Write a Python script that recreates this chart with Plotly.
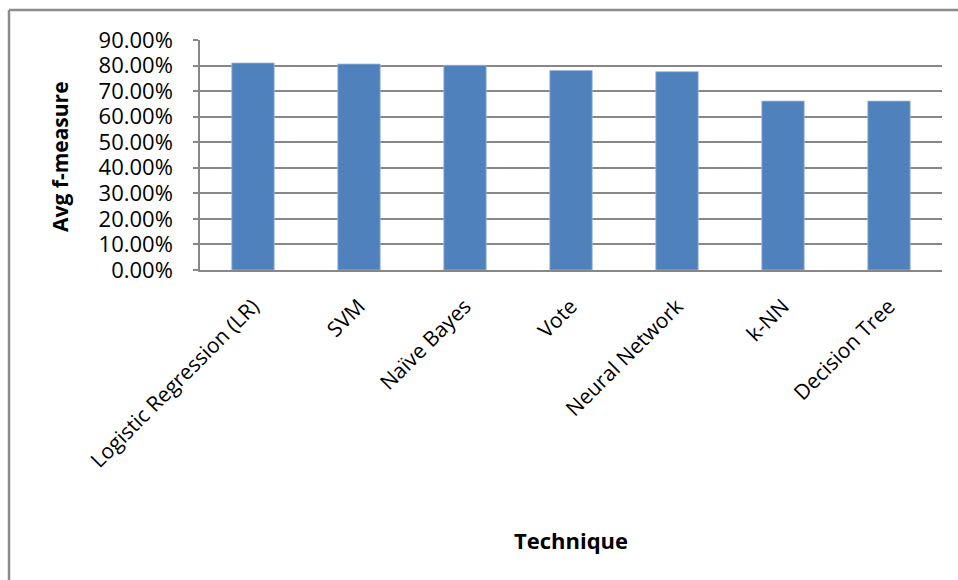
import plotly.graph_objects as go

techniques = ["Logistic Regression (LR)", "SVM", "Naïve Bayes", "Vote",
              "Neural Network", "k-NN", "Decision Tree"]
avg_f_measure = [0.810, 0.806, 0.801, 0.781, 0.776, 0.661, 0.661]
y_ticks = [0.0, 0.1, 0.2, 0.3, 0.4, 0.5, 0.6, 0.7, 0.8, 0.9]

W, H = 958, 580
L, R, T, B = 200, 16, 40, 310
pw, ph = W - L - R, H - T - B

def px(x):
    return (x - L) / pw

def py(y):
    return (H - B - y) / ph

FONT = "Open Sans"

fig = go.Figure(go.Bar(
    x=techniques, y=avg_f_measure,
    marker=dict(color="#4F81BD", line=dict(color="#9DB7DA", width=0.8)),
))

fig.update_layout(
    width=W, height=H,
    margin=dict(l=L, r=R, t=T, b=B, pad=0),
    paper_bgcolor="white", plot_bgcolor="white",
    bargap=0.6, showlegend=False,
    font=dict(family=FONT, color="black"),
    xaxis=dict(
        tickangle=-45, tickfont=dict(size=21, family=FONT),
        showgrid=False, showline=True, linecolor="#878787", linewidth=1.5,
        ticks="", ticklabelstandoff=14,
    ),
    yaxis=dict(
        range=[0, 0.9], tickvals=y_ticks, tickformat=".2%",
        tickfont=dict(size=22, family=FONT),
        showgrid=True, gridcolor="#878787", gridwidth=1.5,
        showline=True, linecolor="#878787", linewidth=1.5,
        ticks="outside", ticklen=5, tickcolor="#878787", tickwidth=1.5,
        ticklabelstandoff=16, zeroline=False,
    ),
    annotations=[
        dict(text="<b>Avg f-measure</b>", x=px(60), y=py(157), xref="paper", yref="paper",
             textangle=-90, showarrow=False, font=dict(size=21, family=FONT),
             xanchor="center", yanchor="middle"),
        dict(text="<b>Technique</b>", x=px(571), y=py(540), xref="paper", yref="paper",
             showarrow=False, font=dict(size=22, family=FONT),
             xanchor="center", yanchor="middle"),
    ],
    shapes=[
        dict(type="line", xref="paper", yref="paper", x0=px(9), x1=px(958), y0=py(10), y1=py(10),
             line=dict(color="#8c8c8c", width=2.5)),
        dict(type="line", xref="paper", yref="paper", x0=px(9), x1=px(9), y0=py(10), y1=py(580),
             line=dict(color="#8c8c8c", width=2.5)),
    ],
)

fig.write_html("out.html")
